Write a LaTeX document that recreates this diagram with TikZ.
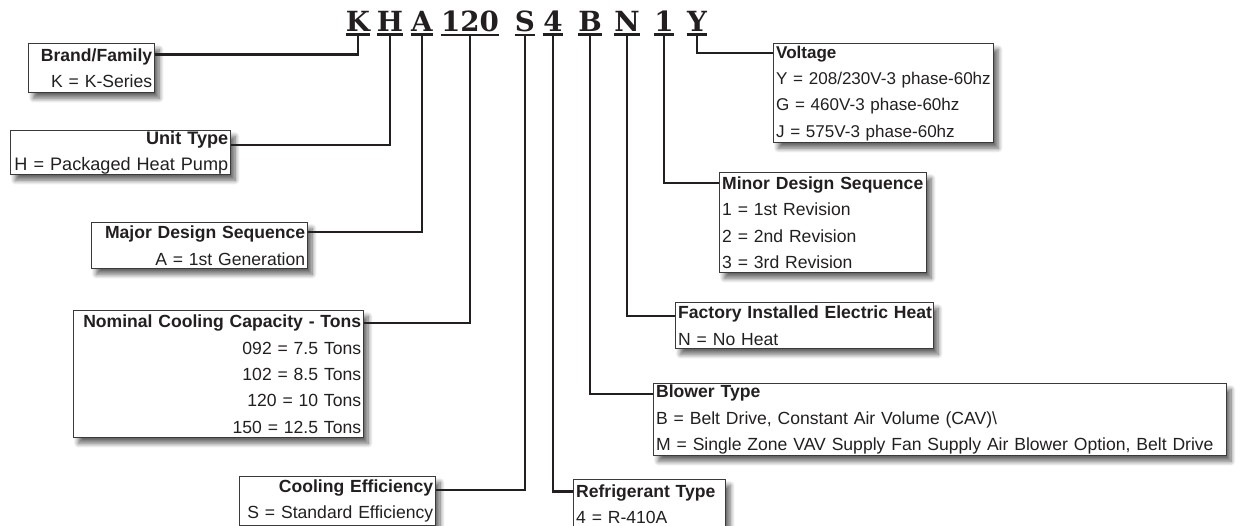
\documentclass[tikz,border=0pt]{standalone}
\usepackage{fontspec}
\setmainfont{Liberation Sans}
\newfontfamily\codefont{DejaVu Serif}
\usetikzlibrary{shadows.blur}
\definecolor{ink}{HTML}{231F20}
\definecolor{edge}{HTML}{3A3A3A}
\newcommand\boxline[1]{\mbox{#1}}
\newcommand\boxhead[1]{\mbox{\bfseries #1}}
\begin{document}
\begin{tikzpicture}[x=0.02cm,y=-0.02cm,
  code/.style={inner sep=0pt,anchor=base,text=ink,font=\codefont\bfseries\fontsize{15.8pt}{15.8pt}\selectfont},
  bar/.style={draw=ink,line width=1.4pt},
  conn/.style={draw=ink,line width=1.4pt},
  box/.style={draw=edge,line width=0.8pt,fill=white,anchor=north west,inner xsep=1.4pt,inner ysep=0pt,
    text=ink,font=\fontsize{10pt}{15pt}\selectfont,
    blur shadow={shadow xshift=2.6pt,shadow yshift=-3.2pt,shadow blur steps=10,shadow blur radius=2.6pt,shadow opacity=60}},
  lbox/.style={box,align=left},
  rbox/.style={box,align=right},
  fs/.style={font=\fontsize{#1}{15pt}\selectfont}]
\useasboundingbox (0,0) rectangle (1241,525);

% code letters
\node[code] (cK) at (358,31) {K};
\node[code] (cH) at (390,31) {H};
\node[code] (cA) at (422,31) {A};
\node[code] (cC) at (470,31) {120};
\node[code] (cS) at (525,31) {S};
\node[code] (c4) at (553,31) {4};
\node[code] (cB) at (590,31) {B};
\node[code] (cN) at (627,31) {N};
\node[code] (c1) at (664,31) {1};
\node[code] (cY) at (697,31) {Y};
\foreach \c in {cK,cH,cA,cC,cS,c4,cB,cN,c1,cY}{
  \draw[bar] ([yshift=-1.9pt]\c.south west) -- ([yshift=-1.9pt]\c.south east);
}

% boxes
\node[rbox,minimum height=27.9pt,text width=68.9pt] (brand) at (28,43)
  {\boxhead{Brand/Family}\\\boxline{K = K-Series}};
\node[rbox,fs=10.3pt,minimum height=25.0pt,text width=122.4pt] (unit) at (10,130)
  {\boxhead{Unit Type}\\\boxline{H = Packaged Heat Pump}};
\node[rbox,minimum height=26.2pt,text width=120.1pt] (major) at (91,222)
  {\boxhead{Major Design Sequence}\\\boxline{A = 1st Generation}};
\node[rbox,minimum height=72.3pt,text width=162.2pt] (nominal) at (73,310)
  {\boxhead{Nominal Cooling Capacity - Tons}\\\boxline{092 = 7.5 Tons}\\\boxline{102 = 8.5 Tons}\\\boxline{120 = 10 Tons}\\\boxline{150 = 12.5 Tons}};
\node[rbox,minimum height=27.9pt,text width=108.7pt] (cooling) at (239,476)
  {\boxhead{Cooling Efficiency}\\\boxline{S = Standard Efficiency}};
\node[lbox,minimum height=27.9pt,text width=83.7pt] (refrig) at (573,479)
  {\boxhead{Refrigerant Type}\\\boxline{4 = R-410A}};
\node[lbox,minimum height=41.0pt,text width=323.2pt] (blower) at (653,383)
  {\boxhead{Blower Type}\\\boxline{B = Belt Drive, Constant Air Volume (CAV)\textbackslash}\\\boxline{M = Single Zone VAV Supply Fan Supply Air Blower Option, Belt Drive}};
\node[lbox,minimum height=26.2pt,text width=144.0pt] (factory) at (675,302)
  {\boxhead{Factory Installed Electric Heat}\\\boxline{N = No Heat}};
\node[lbox,minimum height=56.9pt,text width=115.0pt] (minor) at (719,172)
  {\boxhead{Minor Design Sequence}\\\boxline{1 = 1st Revision}\\\boxline{2 = 2nd Revision}\\\boxline{3 = 3rd Revision}};
\node[lbox,fs=9.7pt,minimum height=56.3pt,text width=122.4pt] (voltage) at (773,43)
  {\boxhead{Voltage}\\\boxline{Y = 208/230V-3 phase-60hz}\\\boxline{G = 460V-3 phase-60hz}\\\boxline{J = 575V-3 phase-60hz}};

% connectors
\draw[conn] ([yshift=-1.9pt]cK.south) |- ([yshift=-6.5pt]brand.north east);
\draw[conn] ([yshift=-1.9pt]cH.south) |- ([yshift=-8.5pt]unit.north east);
\draw[conn] ([yshift=-1.9pt]cA.south) |- ([yshift=-5.7pt]major.north east);
\draw[conn] ([yshift=-1.9pt]cC.south) |- ([yshift=-7.4pt]nominal.north east);
\draw[conn] ([yshift=-1.9pt]cS.south) |- ([yshift=-7.9pt]cooling.north east);
\draw[conn] ([yshift=-1.9pt]c4.south) |- ([yshift=-7.2pt]refrig.north west);
\draw[conn] ([yshift=-1.9pt]cB.south) |- ([yshift=-6.3pt]blower.north west);
\draw[conn] ([yshift=-1.9pt]cN.south) |- ([yshift=-8.0pt]factory.north west);
\draw[conn] ([yshift=-1.9pt]c1.south) |- ([yshift=-6.3pt]minor.north west);
\draw[conn] ([yshift=-1.9pt]cY.south) |- ([yshift=-5.7pt]voltage.north west);
\end{tikzpicture}
\end{document}
